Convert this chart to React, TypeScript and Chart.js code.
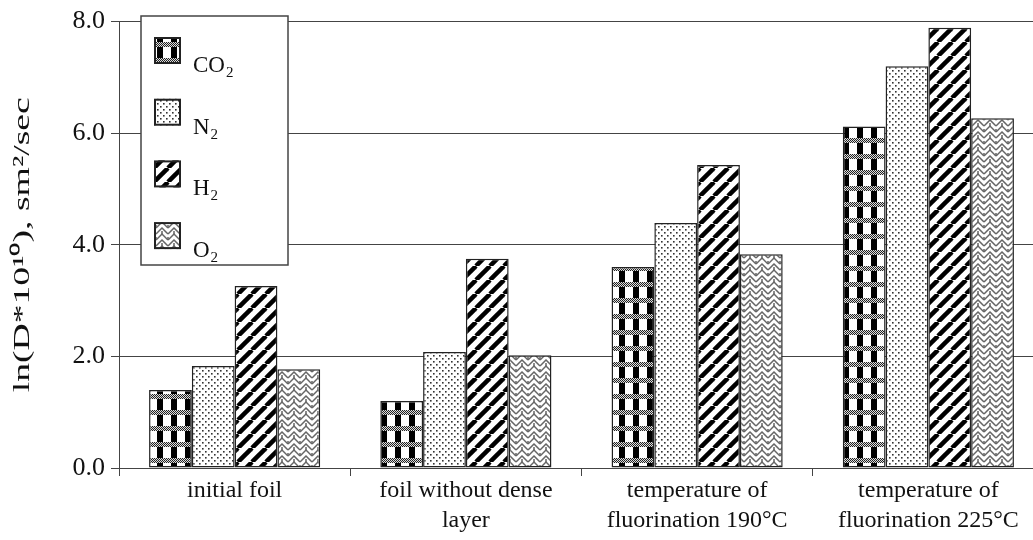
import React, { useEffect, useRef } from 'react';
import { Chart, registerables } from 'chart.js';

Chart.register(...registerables);

// ---- data ----
const categories: string[][] = [
  ['initial foil'],
  ['foil without dense', 'layer'],
  ['temperature of', 'fluorination 190°C'],
  ['temperature of', 'fluorination 225°C'],
];
const seriesBase = ['CO', 'N', 'H', 'O'];
const seriesSub = ['2', '2', '2', '2'];
const co2Values = [1.4, 1.2, 3.6, 6.12];
const n2Values = [1.83, 2.08, 4.39, 7.2];
const h2Values = [3.26, 3.75, 5.43, 7.89];
const o2Values = [1.77, 2.02, 3.83, 6.27];
const yTicks = [0, 2, 4, 6, 8];
const yTitle = 'ln(D*10¹⁰), sm²/sec';

const FONT = '"Liberation Serif", "Times New Roman", serif';

function makeTile(w: number, h: number, draw: (c: CanvasRenderingContext2D) => void) {
  const t = document.createElement('canvas');
  t.width = w;
  t.height = h;
  const c = t.getContext('2d')!;
  c.fillStyle = '#fff';
  c.fillRect(0, 0, w, h);
  draw(c);
  return t;
}

function buildPatterns(ctx: CanvasRenderingContext2D) {
  // CO2: black columns with grey checker bands
  const co2 = makeTile(14, 16, (c) => {
    c.fillStyle = '#000';
    c.fillRect(3, 0, 6, 16);
    for (let y = 10; y < 15; y++) {
      for (let x = 0; x < 14; x++) {
        c.fillStyle = (x + y) % 2 === 0 ? '#222' : '#ddd';
        c.fillRect(x, y, 1, 1);
      }
    }
  });
  // N2: sparse dots
  const n2 = makeTile(6, 6, (c) => {
    c.fillStyle = '#333';
    c.fillRect(1, 1, 1.6, 1.6);
    c.fillRect(4, 4, 1.6, 1.6);
  });
  // H2: thick diagonal stripes
  const h2 = makeTile(14, 14, (c) => {
    c.strokeStyle = '#000';
    c.lineWidth = 4.5;
    for (const off of [-14, 0, 14]) {
      c.beginPath();
      c.moveTo(off, 14);
      c.lineTo(off + 14, 0);
      c.stroke();
    }
  });
  // O2: grey herringbone weave
  const o2 = makeTile(12, 12, (c) => {
    c.strokeStyle = '#666';
    c.lineWidth = 1.5;
    for (const dy of [-12, 0, 12]) {
      for (const y0 of [0, 6]) {
        c.beginPath();
        c.moveTo(0, dy + y0 + 6);
        c.lineTo(6, dy + y0);
        c.lineTo(12, dy + y0 + 6);
        c.stroke();
      }
    }
    c.beginPath();
    c.moveTo(6, 3); c.lineTo(6, 6);
    c.moveTo(0, 9); c.lineTo(0, 12);
    c.moveTo(12, 9); c.lineTo(12, 12);
    c.stroke();
  });
  return [co2, n2, h2, o2].map((t) => ctx.createPattern(t, 'repeat')!);
}

export default function App() {
  const ref = useRef<HTMLCanvasElement>(null);

  useEffect(() => {
    const canvas = ref.current!;
    const ctx = canvas.getContext('2d')!;
    const patterns = buildPatterns(ctx);
    const values = [co2Values, n2Values, h2Values, o2Values];

    const legendPlugin = {
      id: 'boxLegend',
      afterDraw(chart: any) {
        const c: CanvasRenderingContext2D = chart.ctx;
        c.save();
        c.fillStyle = '#fff';
        c.fillRect(141, 16, 147, 249);
        c.strokeStyle = '#444';
        c.lineWidth = 1.5;
        c.strokeRect(141, 16, 147, 249);
        seriesBase.forEach((b, i) => {
          const y = 37 + i * 61.7;
          c.fillStyle = patterns[i];
          c.fillRect(154, y, 27, 27);
          c.strokeStyle = '#222';
          c.lineWidth = 2;
          c.strokeRect(155, y + 1, 25, 25);
          c.fillStyle = '#111';
          c.textBaseline = 'alphabetic';
          c.textAlign = 'left';
          c.font = `23px ${FONT}`;
          c.fillText(b, 193, y + 35);
          const w = c.measureText(b).width;
          c.font = `15px ${FONT}`;
          c.fillText(seriesSub[i], 194 + w, y + 40);
        });
        c.restore();
      },
    };

    const yTitlePlugin = {
      id: 'yTitle',
      afterDraw(chart: any) {
        const c: CanvasRenderingContext2D = chart.ctx;
        const area = chart.chartArea;
        c.save();
        c.translate(23, (area.top + area.bottom) / 2);
        c.rotate(-Math.PI / 2);
        c.font = `23px ${FONT}`;
        c.fillStyle = '#111';
        c.textAlign = 'center';
        c.textBaseline = 'middle';
        const w = c.measureText(yTitle).width;
        c.scale(295 / w, 1);
        c.fillText(yTitle, 0, 0);
        c.restore();
      },
    };

    const chart = new Chart(ctx, {
      type: 'bar',
      data: {
        labels: categories,
        datasets: seriesBase.map((b, i) => ({
          label: b + '₂',
          data: values[i],
          backgroundColor: patterns[i],
          borderColor: '#222',
          borderWidth: 1.5,
          borderSkipped: false,
          categoryPercentage: 0.74,
          barPercentage: 1,
        })),
      },
      options: {
        responsive: false,
        animation: false,
        layout: { padding: { top: 20, right: 6, left: 0, bottom: 0 } },
        plugins: { legend: { display: false }, tooltip: { enabled: false } },
        scales: {
          x: {
            grid: { display: true, drawOnChartArea: false, drawTicks: true, tickLength: 8, color: '#444', offset: true },
            border: { display: true, color: '#444', width: 1 },
            ticks: { color: '#111', font: { family: FONT, size: 24, lineHeight: 1.25 }, padding: 0, maxRotation: 0, autoSkip: false },
            afterFit: (s: any) => { s.height = 72; },
          },
          y: {
            min: 0,
            max: 8,
            afterBuildTicks: (s: any) => { s.ticks = yTicks.map((v) => ({ value: v })); },
            ticks: { color: '#111', font: { family: FONT, size: 26 }, padding: 6, callback: (v: any) => Number(v).toFixed(1) },
            grid: { color: '#444', tickLength: 8 },
            border: { display: true, color: '#444', width: 1 },
            title: { display: false },
            afterFit: (s: any) => { s.width = 119; },
          },
        },
      },
      plugins: [legendPlugin, yTitlePlugin],
    });
    return () => chart.destroy();
  }, []);

  return (
    <div style={{ position: 'fixed', left: 0, top: 0, width: 1033, height: 540, overflow: 'hidden', background: '#fff' }}>
      <canvas ref={ref} width={1050} height={540} style={{ display: 'block', width: 1050, height: 540 }} />
    </div>
  );
}
